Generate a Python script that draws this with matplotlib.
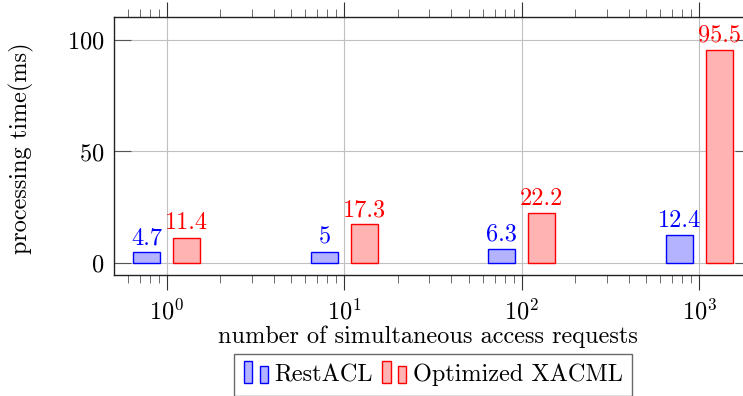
import numpy as np
import matplotlib
matplotlib.use("Agg")
import matplotlib.pyplot as plt
from matplotlib.patches import Rectangle
from matplotlib.legend_handler import HandlerBase
from matplotlib.ticker import LogLocator, NullFormatter

plt.rcParams['font.family'] = ['cmr10', 'DejaVu Serif']
plt.rcParams['mathtext.fontset'] = 'cm'
plt.rcParams['axes.formatter.use_mathtext'] = True

requests = [1, 10, 100, 1000]
restacl = [4.7, 5, 6.3, 12.4]
xacml = [11.4, 17.3, 22.2, 95.5]
series_names = ['RestACL', 'Optimized XACML']

blue_face, blue_edge = '#b3b3ff', 'blue'
red_face, red_edge = '#ffb3b3', 'red'
FS = 17.5


class TwoBarHandler(HandlerBase):
    def create_artists(self, legend, orig, xd, yd, w, h, fontsize, trans):
        fc, ec = orig.get_facecolor(), orig.get_edgecolor()
        r1 = Rectangle((xd + 0.0 * w, yd - 0.1 * h), 0.36 * w, 1.3 * h,
                       facecolor=fc, edgecolor=ec, lw=1.0, transform=trans)
        r2 = Rectangle((xd + 0.66 * w, yd - 0.1 * h), 0.33 * w, 1.0 * h,
                       facecolor=fc, edgecolor=ec, lw=1.0, transform=trans)
        return [r1, r2]


fig = plt.figure(figsize=(7.43, 3.96), dpi=100)
W, H = 743, 396
ax = fig.add_axes([114 / W, 1 - 275 / H, (752 - 114) / W, (275 - 17) / H])

ax.set_xscale('log')
x0 = 10 ** ((114 - 167) / 177.5)
x1 = 10 ** ((752 - 167) / 177.5)
ax.set_xlim(x0, x1)
ax.set_ylim(-5.4, 110.3)

# bar extents in decades relative to each tick
lo_b, hi_b = -0.19, -0.037
lo_r, hi_r = 0.035, 0.188
handles = []
for vals, (lo, hi), fc, ec, name in [(restacl, (lo_b, hi_b), blue_face, blue_edge, series_names[0]),
                                     (xacml, (lo_r, hi_r), red_face, red_edge, series_names[1])]:
    xs = np.array(requests, dtype=float)
    left = xs * 10 ** lo
    right = xs * 10 ** hi
    bars = ax.bar(left, vals, width=right - left, align='edge',
                  facecolor=fc, edgecolor=ec, linewidth=1.0, zorder=3, label=name)
    handles.append(bars.patches[0])
    for l, r, v in zip(left, right, vals):
        ax.text(np.sqrt(l * r), v + 1.5, f'{v:g}', ha='center', va='bottom',
                color=ec, fontsize=FS, zorder=4, clip_on=False)

ax.grid(True, which='major', color='#c0c0c0', linewidth=0.8, zorder=0)
ax.set_axisbelow(True)
ax.set_yticks([0, 50, 100])
ax.xaxis.set_major_locator(LogLocator(base=10, numticks=10))
ax.xaxis.set_minor_locator(LogLocator(base=10, subs=np.arange(2, 10), numticks=20))
ax.xaxis.set_minor_formatter(NullFormatter())
ax.tick_params(axis='x', which='major', direction='out', length=11, width=0.8,
               top=True, bottom=True, labelsize=FS, colors='#333333', labelcolor='black', pad=6)
ax.tick_params(axis='x', which='minor', direction='out', length=6, width=0.6,
               top=True, bottom=True, colors='#555555')
ax.tick_params(axis='y', which='major', direction='in', length=12, width=0.8,
               left=True, right=True, labelsize=FS, colors='#555555', labelcolor='black', pad=7)
for s in ax.spines.values():
    s.set_linewidth(1.0)
    s.set_color('#222222')

ax.set_xlabel('number of simultaneous access requests', fontsize=FS)
ax.set_ylabel('processing time(ms)', fontsize=FS)
ax.xaxis.set_label_coords((428 - 114) / 638, (275 - 326) / 258)
ax.yaxis.set_label_coords((34 - 114) / 638, 0.49)

leg = fig.legend(handles, series_names, loc='upper center',
                 bbox_to_anchor=(433 / W, 1 - 354 / H), ncol=2, fontsize=FS,
                 handler_map={h: TwoBarHandler() for h in handles},
                 frameon=True, fancybox=False, edgecolor='#444444',
                 handlelength=1.0, handletextpad=0.25, columnspacing=0.4,
                 borderpad=0.4, borderaxespad=0)
leg.get_frame().set_linewidth(1.0)

fig.savefig('out.png', dpi=100)
